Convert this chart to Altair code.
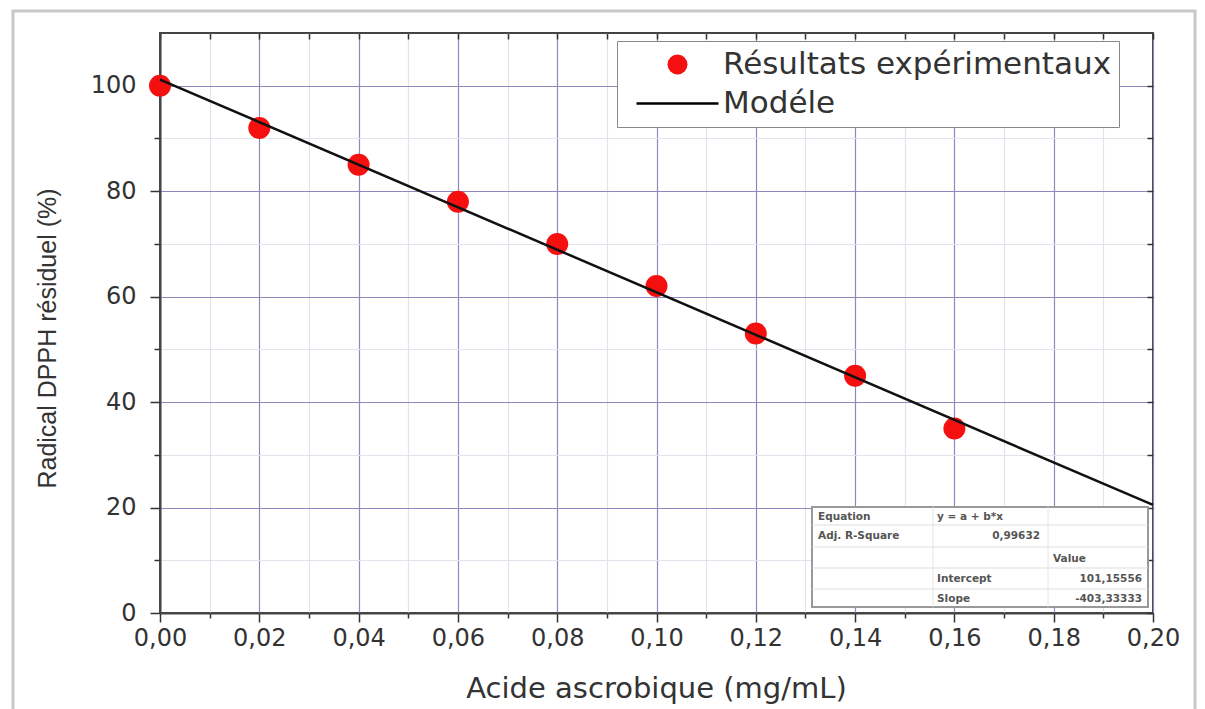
import altair as alt
import pandas as pd

# ---------------- data ----------------
conc = [0.00, 0.02, 0.04, 0.06, 0.08, 0.10, 0.12, 0.14, 0.16]
dpph = [100, 92, 85, 78, 70, 62, 53, 45, 35]
model_x = [0.00, 0.20]
model_y = [101.16, 20.49]
series = ["Résultats expérimentaux", "Modéle"]
x_ticks = [0.00, 0.01, 0.02, 0.03, 0.04, 0.05, 0.06, 0.07, 0.08, 0.09, 0.10,
           0.11, 0.12, 0.13, 0.14, 0.15, 0.16, 0.17, 0.18, 0.19, 0.20]
y_ticks = [0, 10, 20, 30, 40, 50, 60, 70, 80, 90, 100]

table_cells = [
    ("Equation", 0, "c0"), ("y = a + b*x", 0, "c1"),
    ("Adj. R-Square", 1, "c0"), ("0,99632", 1, "c1r"),
    ("Value", 2, "c2"),
    ("Intercept", 3, "c1"), ("101,15556", 3, "c2r"),
    ("Slope", 4, "c1"), ("-403,33333", 4, "c2r"),
]

# ---------------- layout / style ----------------
W, H = 993, 580
PAD = {"left": 160, "top": 33, "right": 52, "bottom": 96}
TBL = dict(l=652, r=988, t=474, b=574)
row_lines = [492, 514, 535, 556]
col_lines = [773, 888]
row_y = [484, 503, 526, 546, 566]
anchors = {"c0": (658, "left"), "c1": (777, "left"), "c1r": (880, "right"),
           "c2": (893, "left"), "c2r": (982, "right")}
MAJOR_GRID = "#8a8abf"
MINOR_GRID = "#e3e3ee"
LEGEND_PATH = "M-4.1,-0.13L4.1,-0.13L4.1,0.13L-4.1,0.13Z"

df_pts = pd.DataFrame({"conc": conc, "dpph": dpph, "series": series[0]})
df_mod = pd.DataFrame({"conc": model_x, "dpph": model_y, "series": series[1]})

xscale = alt.Scale(domain=[0, 0.2], nice=False, zero=False)
yscale = alt.Scale(domain=[0, 110], nice=False)

x_major = "round(datum.value*100) % 2 == 0"
y_major = "datum.value % 20 == 0"

x_axis = alt.Axis(
    values=x_ticks,
    labelExpr=f"{x_major} ? replace(format(datum.value, '.2f'), '.', ',') : ''",
    tickSize={"condition": {"test": x_major, "value": 9}, "value": 5},
    gridColor={"condition": {"test": x_major, "value": MAJOR_GRID}, "value": MINOR_GRID},
    gridWidth=1.2,
    tickColor="#333", tickWidth=1.5,
    domainColor="#444", domainWidth=2,
    labelFont="DejaVu Sans", labelFontSize=24, labelColor="#333", labelPadding=4,
    labelFlush=False, labelOverlap=False,
    title="Acide ascrobique (mg/mL)",
    titleFont="DejaVu Sans", titleFontSize=29, titleFontWeight="normal", titleColor="#333",
    titleX=496, titleY=75, titleBaseline="middle", titleAlign="center",
)
y_axis = alt.Axis(
    values=y_ticks,
    labelExpr=f"{y_major} ? datum.value : ''",
    tickSize={"condition": {"test": y_major, "value": 10}, "value": 6},
    gridColor={"condition": {"test": y_major, "value": MAJOR_GRID}, "value": MINOR_GRID},
    gridWidth=1.2,
    tickColor="#333", tickWidth=1.5,
    domainColor="#444", domainWidth=2,
    labelFont="DejaVu Sans", labelFontSize=24, labelColor="#333", labelPadding=14,
    labelOverlap=False,
    title="Radical DPPH résiduel (%)",
    titleFont="Liberation Sans", titleFontSize=25, titleFontWeight="normal", titleColor="#333",
    titleX=-113, titleY=305, titleAngle=270, titleBaseline="middle", titleAlign="center",
)

legend = alt.Legend(
    title=None, orient="none", legendX=457, legendY=8,
    symbolSize=400, symbolOffset=37, labelOffset=30, symbolStrokeWidth=0,
    labelFont="DejaVu Sans", labelFontSize=31, labelColor="#333", labelLimit=700,
    padding=8, rowPadding=7, fillColor="white", strokeColor="#888",
)

# page border (light frame of the picture)
border = alt.Chart(pd.DataFrame({"k": [0]})).mark_rect(
    fill=None, stroke="#c8c8c8", strokeWidth=3
).encode(x=alt.value(-147), x2=alt.value(1035), y=alt.value(-22), y2=alt.value(700))

points = alt.Chart(df_pts).mark_point(filled=True, size=484, opacity=1).encode(
    x=alt.X("conc:Q", scale=xscale, axis=x_axis),
    y=alt.Y("dpph:Q", scale=yscale, axis=y_axis),
    color=alt.Color("series:N", scale=alt.Scale(domain=series, range=["#f51010", "#000000"]), legend=legend),
    shape=alt.Shape("series:N", scale=alt.Scale(domain=series, range=["circle", LEGEND_PATH]), legend=legend),
)

model = alt.Chart(df_mod).mark_line(color="#111", strokeWidth=2.5).encode(
    x=alt.X("conc:Q", scale=xscale, axis=None),
    y=alt.Y("dpph:Q", scale=yscale, axis=None),
)

mirror = alt.Chart(df_pts).mark_point(opacity=0).encode(
    x=alt.X("conc:Q", scale=xscale, axis=alt.Axis(
        orient="top", values=x_ticks, labels=False, title=None, grid=False, domain=False,
        tickSize={"expr": "-6"}, tickColor="#333", tickWidth=1.5)),
    y=alt.Y("dpph:Q", scale=yscale, axis=alt.Axis(
        orient="right", values=y_ticks, labels=False, title=None, grid=False, domain=False,
        tickSize={"expr": "-6"}, tickColor="#333", tickWidth=1.5)),
)

one = pd.DataFrame({"k": [0]})
table_layers = [
    alt.Chart(one).mark_rect(fill="white", stroke="#999", strokeWidth=2).encode(
        x=alt.value(TBL["l"]), x2=alt.value(TBL["r"]), y=alt.value(TBL["t"]), y2=alt.value(TBL["b"]))
]
for ry in row_lines:
    table_layers.append(alt.Chart(one).mark_rule(color="#dddddd", strokeWidth=1).encode(
        x=alt.value(TBL["l"]), x2=alt.value(TBL["r"]), y=alt.value(ry), y2=alt.value(ry)))
for cx in col_lines:
    table_layers.append(alt.Chart(one).mark_rule(color="#e4e4e4", strokeWidth=1).encode(
        x=alt.value(cx), x2=alt.value(cx), y=alt.value(TBL["t"]), y2=alt.value(TBL["b"])))
for label, r, c in table_cells:
    ax, al = anchors[c]
    table_layers.append(alt.Chart(one).mark_text(
        font="DejaVu Sans", fontSize=10.5, fontWeight="bold", color="#555",
        align=al, baseline="middle").encode(
        x=alt.value(ax), y=alt.value(row_y[r]), text=alt.value(label)))

chart = alt.layer(border, *table_layers, points, model, mirror).resolve_axis(
    x="independent", y="independent"
).properties(
    width=W, height=H, padding=PAD, autosize=alt.AutoSizeParams(type="none"),
    background="white",
).configure_view(stroke="#444", strokeWidth=2)

chart.save("out.html", embed_options={"renderer": "svg", "actions": False})
